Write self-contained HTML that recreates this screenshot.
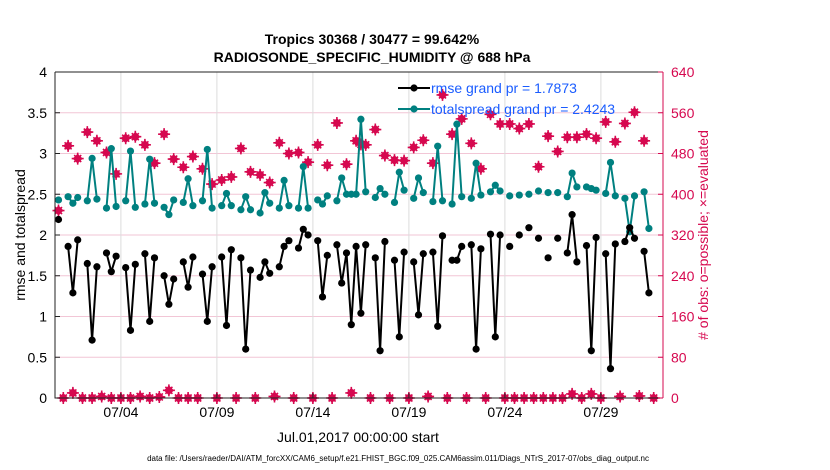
<!DOCTYPE html>
<html><head><meta charset="utf-8"><style>
body{margin:0;background:#fff;}
svg{display:block;font-family:"Liberation Sans",sans-serif;}
</style></head><body>
<svg id="chart" width="830" height="470" viewBox="0 0 830 470">
<text x="372" y="44" text-anchor="middle" font-size="14" font-weight="bold">Tropics 30368 / 30477 = 99.642%</text>
<text x="372" y="62" text-anchor="middle" font-size="14" font-weight="bold">RADIOSONDE_SPECIFIC_HUMIDITY @ 688 hPa</text>
<text transform="translate(25,235) rotate(-90)" text-anchor="middle" font-size="14">rmse and totalspread</text>
<text transform="translate(708,235) rotate(-90)" text-anchor="middle" font-size="14" fill="#d6084f"># of obs: o=possible; ×=evaluated</text>
<text x="358" y="442" text-anchor="middle" font-size="14">Jul.01,2017 00:00:00 start</text>
<text x="398" y="461" text-anchor="middle" font-size="8">data file: /Users/raeder/DAI/ATM_forcXX/CAM6_setup/f.e21.FHIST_BGC.f09_025.CAM6assim.011/Diags_NTrS_2017-07/obs_diag_output.nc</text>
<g id="plot"></g>
</svg>
<script>
const N = 125;
const rmseIdx = [0,2,3,4,6,7,8,10,11,12,14,15,16,18,19,20,22,23,24,26,27,28,30,31,32,34,35,36,38,39,40,42,43,44,46,47,48,50,51,52,54,55,56,58,59,60,61,62,63,64,66,67,68,70,71,72,74,75,76,78,79,80,82,83,84,86,87,88,90,91,92,94,96,98,100,102,104,106,107,108,110,111,112,114,115,116,118,119,120,122,123];
const rmseVals = [2.19,1.86,1.29,1.94,1.65,0.71,1.61,1.78,1.55,1.74,1.6,0.83,1.64,1.77,0.94,1.72,1.5,1.15,1.46,1.67,1.36,1.73,1.52,0.94,1.61,1.73,0.89,1.82,1.72,0.6,1.57,1.48,1.67,1.53,1.61,1.86,1.93,1.84,2.07,2.0,1.93,1.24,1.75,1.88,1.41,1.78,0.9,1.86,1.04,1.88,1.72,0.58,1.92,1.69,0.75,1.79,1.67,1.02,1.77,1.79,0.88,1.99,1.69,1.69,1.86,1.88,0.6,1.83,2.01,0.75,2.0,1.86,2.0,2.09,1.96,1.72,1.96,1.78,2.25,1.67,1.87,0.58,1.97,1.77,0.36,1.89,1.92,2.09,1.96,1.8,1.29];
const spreadVals = [2.43,2.47,2.39,2.46,2.42,2.94,2.44,2.33,3.06,2.35,2.42,3.03,2.34,2.38,2.93,2.39,2.34,2.25,2.43,2.4,2.69,2.36,2.42,3.05,2.33,2.36,2.51,2.36,2.31,2.47,2.31,2.27,2.52,2.39,2.33,2.67,2.36,2.33,2.84,2.33,2.43,2.38,2.48,2.42,2.7,2.5,2.5,2.5,3.42,2.53,2.46,2.57,2.5,2.4,2.77,2.55,2.45,2.7,2.52,2.41,3.09,2.42,2.38,3.36,2.47,2.45,2.88,2.49,2.53,2.61,2.54,2.48,2.49,2.5,2.54,2.52,2.52,2.47,2.76,2.59,2.59,2.57,2.55,2.51,2.89,2.48,2.45,2.04,2.48,2.53,2.08];
const possIdx = [0,2,4,6,8,10,12,14,16,18,20,22,24,26,28,30,32,34,36,38,40,42,44,46,48,50,52,54,56,58,60,62,63,64,66,68,70,72,74,76,78,80,82,84,86,88,90,92,94,96,98,100,102,104,106,108,110,112,114,116,118,120,122];
const possVals = [368,495,470,522,505,482,440,510,513,497,461,518,469,453,474,450,420,428,434,490,444,438,423,501,480,482,463,497,457,540,459,505,498,497,527,476,467,466,492,506,461,595,518,548,500,450,557,538,538,529,538,454,514,484,512,512,518,510,542,503,539,561,505];
const lowIdx = [1,3,5,7,9,11,13,15,17,19,21,23,25,27,29,33,37,41,45,49,53,57,61,65,69,73,77,81,85,89,93,95,97,99,101,103,105,107,109,111,113,117,121,124];
const lowVals = [0,10,0,0,3,0,0,0,3,0,2,15,0,0,0,0,0,0,3,0,0,0,10,0,0,0,3,0,0,0,0,0,0,0,0,0,0,8,0,8,0,3,4,0];
const xTicks = [3.25,8.25,13.25,18.25,23.25,28.25];
const xTickLabels = ["07/04","07/09","07/14","07/19","07/24","07/29"];
const yTicks = [0,0.5,1,1.5,2,2.5,3,3.5,4];
const y2Ticks = [0,80,160,240,320,400,480,560,640];

const L=55,R=663,T=72,B=398;
const RED='#d6084f';
const NS="http://www.w3.org/2000/svg";
const xs = t => 58.5 + 19.2*t;
const xi = i => xs(i*0.25);
const ys = v => B - (v/4)*(B-T);
const y2s = v => B - (v/640)*(B-T);
const g = document.getElementById('plot');
function mk(tag, attrs, parent){const e=document.createElementNS(NS,tag);for(const k in attrs)e.setAttribute(k,attrs[k]);(parent||g).appendChild(e);return e;}

y2Ticks.forEach(v=>{const e=mk('line',{x1:L,x2:R,y1:y2s(v),y2:y2s(v),stroke:'#f2c6d6','stroke-width':1});

});
xTicks.forEach(t=>{const e=mk('line',{x1:xs(t),x2:xs(t),y1:T,y2:B,stroke:'#dcdcdc','stroke-width':1});

});

function seriesPath(idx, vals, sc){
  let d='',prev=-5;
  idx.forEach((i,k)=>{d+=(i-prev===1?'L':'M')+xi(i).toFixed(1)+','+sc(vals[k]).toFixed(1);prev=i;});
  return d;
}
function star(cx,cy,name){
  const gg=mk('g',{});
  
  
  mk('path',{d:`M${cx},${cy-5}L${cx+5},${cy}L${cx},${cy+5}L${cx-5},${cy}Z`,fill:RED},gg);
  mk('path',{d:`M${cx-6},${cy}H${cx+6}M${cx},${cy-6}V${cy+6}M${cx-3.5},${cy-3.5}L${cx+3.5},${cy+3.5}M${cx-3.5},${cy+3.5}L${cx+3.5},${cy-3.5}`,stroke:RED,'stroke-width':1.6},gg);
}
possIdx.forEach((i,k)=>star(xi(i),y2s(possVals[k]),'obs-possible-marker'));
lowIdx.forEach((i,k)=>star(xi(i),y2s(lowVals[k]),'obs-low-marker'));

const sp=mk('path',{d:seriesPath(rmseIdx,spreadVals,ys),fill:'none',stroke:'#008080','stroke-width':2});


rmseIdx.forEach((i,k)=>{const c=mk('circle',{cx:xi(i),cy:ys(spreadVals[k]),r:3.6,fill:'#008080'});

});
const rp=mk('path',{d:seriesPath(rmseIdx,rmseVals,ys),fill:'none',stroke:'#000','stroke-width':2});


rmseIdx.forEach((i,k)=>{const c=mk('circle',{cx:xi(i),cy:ys(rmseVals[k]),r:3.6,fill:'#000'});

});

const ax=mk('path',{d:`M${L},${T}V${B}H${R}M${L},${T}H${R}`,stroke:'#222','stroke-width':1,fill:'none'});


const rax=mk('line',{x1:R,x2:R,y1:T,y2:B,stroke:RED,'stroke-width':1});


yTicks.forEach(v=>{mk('line',{x1:L,x2:L+5,y1:ys(v),y2:ys(v),stroke:'#222'});
const t=mk('text',{x:L-8,y:ys(v)+5,'text-anchor':'end','font-size':14});t.textContent=String(v);

});
y2Ticks.forEach(v=>{mk('line',{x1:R-5,x2:R,y1:y2s(v),y2:y2s(v),stroke:RED});
const t=mk('text',{x:R+8,y:y2s(v)+5,'font-size':14,fill:RED});t.textContent=String(v);

});
xTicks.forEach((tv,k)=>{mk('line',{x1:xs(tv),x2:xs(tv),y1:B,y2:B-5,stroke:'#222'});
const t=mk('text',{x:xs(tv),y:B+19,'text-anchor':'middle','font-size':14});t.textContent=xTickLabels[k];

});

const lg=mk('g',{});


[[88,'#000','rmse grand pr = 1.7873'],[109,'#008080','totalspread grand pr = 2.4243']].forEach(([y,c,s])=>{
 mk('line',{x1:398,x2:430,y1:y,y2:y,stroke:c,'stroke-width':2},lg);
 mk('circle',{cx:414,cy:y,r:3.6,fill:c},lg);
 const t=mk('text',{x:431,y:y+5,'font-size':14,fill:'#1a5cff'},lg);t.textContent=s;
 
 
});
</script>
</body></html>
